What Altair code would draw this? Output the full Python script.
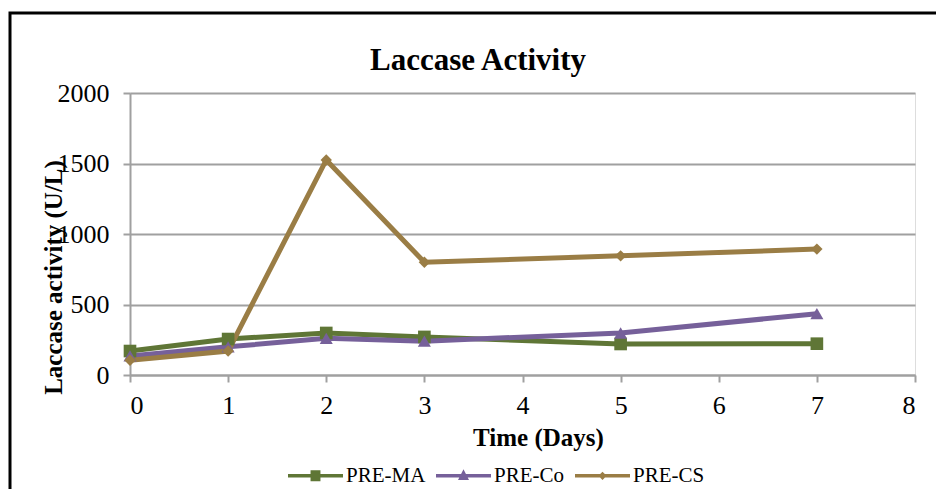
import altair as alt
import pandas as pd

days = [0, 1, 2, 3, 5, 7]
series_names = ["PRE-MA", "PRE-Co", "PRE-CS"]
pre_ma = [170, 255, 298, 270, 220, 222]
pre_co = [135, 200, 260, 240, 298, 435]
pre_cs = [105, 170, 1525, 800, 845, 893]
colors = ["#5F7636", "#76609A", "#9A7D45"]
marker_shapes = ["square", "triangle-up", "diamond"]
marker_sizes = [160, 170, 130]
legend_paths = [
    "M-1,-0.06H1V0.06H-1Z M-0.18,-0.2H0.18V0.2H-0.18Z",
    "M-1,-0.06H1V0.06H-1Z M0,-0.24L0.2,0.15H-0.2Z",
    "M-1,-0.06H1V0.06H-1Z M0,-0.15L0.15,0L0,0.15L-0.15,0Z",
]
chart_title = "Laccase Activity"

rows = []
for name, vals in zip(series_names, [pre_ma, pre_co, pre_cs]):
    for d, v in zip(days, vals):
        rows.append({"day": d, "value": v, "series": name})
df = pd.DataFrame(rows)

FONT = "Liberation Serif"

x_enc = alt.X(
    "day:Q",
    scale=alt.Scale(domain=[0, 8], nice=False, zero=False),
    axis=alt.Axis(
        title="Time (Days)", values=list(range(0, 9)), format="d",
        grid=False, domainColor="#A0A0A0", domainWidth=2,
        tickColor="#A0A0A0", tickWidth=2, tickSize=7,
        labelFont=FONT, labelFontSize=26, labelColor="black", labelPadding=10,
        titleFont=FONT, titleFontSize=25, titleFontWeight="bold", titleColor="black",
        titleX=408, titleY=62, titleBaseline="middle", titleAnchor="start", titleAlign="center",
    ),
)
y_enc = alt.Y(
    "value:Q",
    scale=alt.Scale(domain=[0, 2000], nice=False),
    axis=alt.Axis(
        title="Laccase activity (U/L)", values=[0, 500, 1000, 1500, 2000], format="d",
        grid=True, gridColor="#A0A0A0", gridWidth=2,
        domainColor="#A0A0A0", domainWidth=2,
        tickColor="#A0A0A0", tickWidth=2, tickSize=7,
        labelFont=FONT, labelFontSize=26, labelColor="black", labelPadding=14,
        titleFont=FONT, titleFontSize=25, titleFontWeight="bold", titleColor="black",
        titleAngle=270, titleX=-77, titleY=184, titleBaseline="middle", titleAlign="center",
    ),
)
color_scale = alt.Scale(domain=series_names, range=colors)

lines = alt.Chart(df).mark_line(strokeWidth=5).encode(
    x=x_enc, y=y_enc,
    color=alt.Color("series:N", scale=color_scale, legend=None),
    detail="series:N",
)

point_layers = []
for name, shp, sz in zip(series_names, marker_shapes, marker_sizes):
    point_layers.append(
        alt.Chart(df).transform_filter(alt.datum.series == name)
        .mark_point(shape=shp, size=sz, filled=True, opacity=1)
        .encode(
            x="day:Q", y="value:Q",
            color=alt.Color("series:N", scale=color_scale, legend=None),
        )
    )

leg = alt.Legend(
    title=None, orient="none", direction="horizontal",
    legendX=158, legendY=355,
    symbolSize=3025, symbolOpacity=1, symbolStrokeWidth=0,
    labelFont=FONT, labelFontSize=21, labelColor="black", labelOffset=3,
    columnPadding=10,
)
legend_layer = alt.Chart(df).mark_point(filled=True, opacity=0).encode(
    x="day:Q", y="value:Q",
    color=alt.Color("series:N", scale=color_scale, legend=leg),
    shape=alt.Shape("series:N", scale=alt.Scale(domain=series_names, range=legend_paths), legend=leg),
)

frame = alt.Chart(pd.DataFrame({"a": [0]})).mark_rect(
    filled=False, stroke="black", strokeWidth=3
).encode(
    x=alt.value(-120), x2=alt.value(900), y=alt.value(-80), y2=alt.value(500)
)

title_mark = alt.Chart(pd.DataFrame({"t": [chart_title]})).mark_text(
    font=FONT, fontSize=31, fontWeight="bold", color="black", align="center", baseline="alphabetic"
).encode(text="t:N", x=alt.value(348), y=alt.value(-23))

chart = alt.layer(frame, title_mark, lines, *point_layers, legend_layer).resolve_scale(
    color="independent", shape="independent"
).properties(
    width=785, height=282,
    autosize=alt.AutoSizeParams(type="none"),
    padding={"left": 130, "top": 93, "right": 21, "bottom": 114},
).configure_view(strokeWidth=0).configure(background="white")

chart.save("out.html", embed_options={"renderer": "svg", "actions": False})
